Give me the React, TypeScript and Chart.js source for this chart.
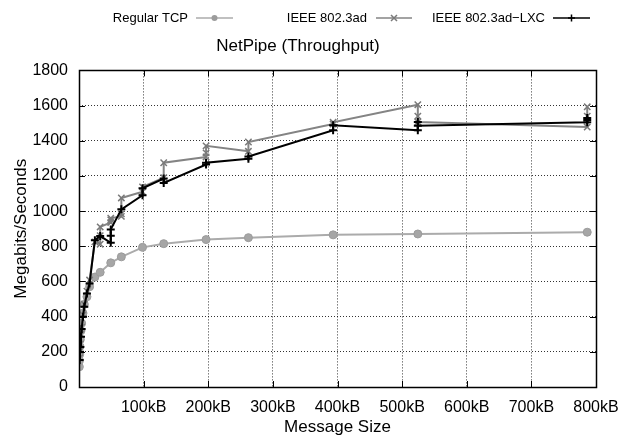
import React, { useEffect, useRef } from 'react';
import { Chart, registerables } from 'chart.js';

Chart.register(...registerables);

const FONT = '"Liberation Sans", Arial, Helvetica, sans-serif';

// Message sizes in bytes (x) and throughput in Mbit/s (y)
const tcpSizes = [512, 768, 1024, 1536, 2048, 3072, 4096, 6144, 8192, 12288, 16384, 24576, 32768, 49152, 65536, 98304, 131072, 196608, 262144, 393216, 524288, 786432];
const tcpValues = [115, 150, 185, 230, 270, 320, 363, 420, 470, 513, 570, 625, 652, 706, 740, 794, 815, 838, 849, 865, 870, 880];

const adSizes = [1024, 1536, 2048, 3072, 4096, 6144, 8192, 12288, 16384, 24576, 32765, 32768, 32771, 49149, 49152, 49155, 65533, 65536, 65539, 98301, 98304, 131069, 131072, 196605, 196608, 196611, 262141, 262144, 393213, 393216, 524285, 524288, 524291, 786429, 786432, 786435];
const adValues = [165, 205, 245, 300, 340, 410, 470, 545, 608, 825, 812, 860, 910, 935, 950, 960, 970, 985, 1075, 1110, 1138, 1190, 1275, 1308, 1331, 1371, 1340, 1393, 1495, 1505, 1605, 1540, 1507, 1478, 1540, 1593];

const lxcSizes = [1024, 1536, 2048, 3072, 4096, 6144, 8192, 12288, 16384, 24576, 32768, 49149, 49152, 49155, 65536, 98301, 98304, 131069, 131072, 196608, 196611, 262141, 262144, 393213, 393216, 524285, 524288, 524291, 786429, 786432, 786435];
const lxcValues = [153, 200, 228, 285, 330, 400, 456, 532, 589, 835, 858, 820, 860, 896, 1010, 1090, 1130, 1185, 1160, 1265, 1275, 1297, 1310, 1460, 1488, 1460, 1507, 1485, 1505, 1518, 1530];

const seriesLabels = ['Regular TCP', 'IEEE 802.3ad', 'IEEE 802.3ad\u2212LXC'];

const xTickValues = [0, 100000, 200000, 300000, 400000, 500000, 600000, 700000, 800000];
const xTickLabels = ['', '100kB', '200kB', '300kB', '400kB', '500kB', '600kB', '700kB', '800kB'];
const yTickValues = [0, 200, 400, 600, 800, 1000, 1200, 1400, 1600, 1800];

const toPoints = (xs: number[], ys: number[]) => xs.map((x, i) => ({ x, y: ys[i] }));

function drawMarker(ctx: CanvasRenderingContext2D, style: string, x: number, y: number, color: string) {
  ctx.save();
  ctx.strokeStyle = color;
  ctx.fillStyle = color;
  ctx.lineWidth = 1.5;
  ctx.beginPath();
  if (style === 'circle') {
    ctx.arc(x, y, 3, 0, Math.PI * 2);
    ctx.fill();
  } else if (style === 'crossRot') {
    const r = 3;
    ctx.moveTo(x - r, y - r); ctx.lineTo(x + r, y + r);
    ctx.moveTo(x - r, y + r); ctx.lineTo(x + r, y - r);
    ctx.stroke();
  } else {
    const r = 3.5;
    ctx.moveTo(x - r, y); ctx.lineTo(x + r, y);
    ctx.moveTo(x, y - r); ctx.lineTo(x, y + r);
    ctx.stroke();
  }
  ctx.restore();
}

const legendLayout = [
  { textRight: 188, lineStart: 196, lineEnd: 233 },
  { textRight: 367, lineStart: 376, lineEnd: 412 },
  { textRight: 545, lineStart: 553, lineEnd: 590 },
];

const framePlugin = {
  id: 'frameAndLegend',
  beforeDraw(chart: any) {
    const { ctx, width, height } = chart;
    ctx.save();
    ctx.fillStyle = '#fff';
    ctx.fillRect(0, 0, width, height);
    ctx.restore();
  },
  afterDraw(chart: any) {
    const { ctx, chartArea: a, scales } = chart;
    ctx.save();
    // inward tick marks on all four sides
    ctx.strokeStyle = '#000';
    ctx.lineWidth = 1;
    ctx.setLineDash([]);
    const tl = 6;
    ctx.beginPath();
    scales.x.ticks.forEach((t: any) => {
      const px = Math.round(scales.x.getPixelForValue(t.value)) + 0.5;
      ctx.moveTo(px, a.bottom); ctx.lineTo(px, a.bottom - tl);
      ctx.moveTo(px, a.top); ctx.lineTo(px, a.top + tl);
    });
    scales.y.ticks.forEach((t: any) => {
      const py = Math.round(scales.y.getPixelForValue(t.value)) + 0.5;
      ctx.moveTo(a.left, py); ctx.lineTo(a.left + tl, py);
      ctx.moveTo(a.right, py); ctx.lineTo(a.right - tl, py);
    });
    ctx.stroke();
    // border
    ctx.lineWidth = 1.5;
    ctx.strokeRect(Math.round(a.left) + 0.5, Math.round(a.top) + 0.5, Math.round(a.right - a.left), Math.round(a.bottom - a.top));

    // legend (gnuplot style: text, then sample line with marker)
    ctx.font = `13px ${FONT}`;
    ctx.textAlign = 'right';
    ctx.textBaseline = 'middle';
    const ly = 18;
    chart.data.datasets.forEach((ds: any, i: number) => {
      const L = legendLayout[i];
      ctx.fillStyle = '#000';
      ctx.fillText(ds.label, L.textRight, ly);
      ctx.strokeStyle = ds.borderColor;
      ctx.lineWidth = 1.5;
      ctx.beginPath();
      ctx.moveTo(L.lineStart, ly);
      ctx.lineTo(L.lineEnd, ly);
      ctx.stroke();
      drawMarker(ctx, ds.pointStyle, (L.lineStart + L.lineEnd) / 2, ly, ds.pointBorderColor || ds.borderColor);
    });
    ctx.restore();
  },
};

export default function App() {
  const ref = useRef<HTMLCanvasElement>(null);

  useEffect(() => {
    if (!ref.current) return;
    const chart = new Chart(ref.current, {
      type: 'line',
      data: {
        datasets: [
          {
            label: seriesLabels[0],
            data: toPoints(tcpSizes, tcpValues),
            borderColor: '#ababab',
            backgroundColor: '#a6a6a6',
            pointBorderColor: '#9c9c9c',
            pointBackgroundColor: '#a6a6a6',
            pointStyle: 'circle',
            pointRadius: 4,
            pointBorderWidth: 1,
            borderWidth: 2,
            order: 3,
          },
          {
            label: seriesLabels[1],
            data: toPoints(adSizes, adValues),
            borderColor: '#848484',
            backgroundColor: '#848484',
            pointBorderColor: '#7a7a7a',
            pointStyle: 'crossRot',
            pointRadius: 4.5,
            pointBorderWidth: 1.5,
            borderWidth: 2,
            order: 2,
          },
          {
            label: seriesLabels[2],
            data: toPoints(lxcSizes, lxcValues),
            borderColor: '#000000',
            backgroundColor: '#000000',
            pointBorderColor: '#000000',
            pointStyle: 'cross',
            pointRadius: 4,
            pointBorderWidth: 2,
            borderWidth: 2,
            order: 1,
          },
        ],
      },
      options: {
        responsive: false,
        animation: false,
        events: [],
        layout: { padding: { top: 35, left: 0, right: 26, bottom: 0 } },
        plugins: {
          legend: { display: false },
          tooltip: { enabled: false },
          title: {
            display: true,
            text: 'NetPipe (Throughput)',
            color: '#000',
            font: { family: FONT, size: 17, weight: 'normal' },
            padding: { top: 1, bottom: 14 },
          },
        },
        scales: {
          x: {
            type: 'linear',
            min: 0,
            max: 800000,
            afterBuildTicks: (s: any) => {
              s.ticks = xTickValues.map((v) => ({ value: v }));
            },
            afterFit: (s: any) => {
              s.height = 51;
              s.paddingLeft = 0;
              s.paddingRight = 0;
            },
            ticks: {
              autoSkip: false,
              maxRotation: 0,
              color: '#000',
              padding: 11,
              font: { family: FONT, size: 16 },
              callback: (_v: any, i: number) => xTickLabels[i],
            },
            grid: { color: 'rgba(0,0,0,0.8)', lineWidth: 1, drawTicks: false },
            border: { display: false, dash: [1, 2] },
            title: {
              display: true,
              text: 'Message Size',
              color: '#000',
              font: { family: FONT, size: 17 },
              padding: { top: 0, bottom: 0 },
            },
          },
          y: {
            type: 'linear',
            min: 0,
            max: 1800,
            afterBuildTicks: (s: any) => {
              s.ticks = yTickValues.map((v) => ({ value: v }));
            },
            afterFit: (s: any) => {
              s.width = 79;
              s.paddingTop = 0;
              s.paddingBottom = 0;
            },
            ticks: {
              color: '#000',
              padding: 11,
              font: { family: FONT, size: 16 },
              callback: (v: any) => String(v),
            },
            grid: { color: 'rgba(0,0,0,0.8)', lineWidth: 1, drawTicks: false },
            border: { display: false, dash: [1, 2] },
            title: {
              display: true,
              text: 'Megabits/Seconds',
              color: '#000',
              font: { family: FONT, size: 17 },
              padding: { top: 11, bottom: 0 },
            },
          },
        },
      },
      plugins: [framePlugin],
    } as any);
    return () => chart.destroy();
  }, []);

  return (
    <div style={{ position: 'fixed', left: 0, top: 0, width: 622, height: 438, background: '#fff' }}>
      <canvas ref={ref} width={622} height={438} style={{ display: 'block' }} />
    </div>
  );
}
